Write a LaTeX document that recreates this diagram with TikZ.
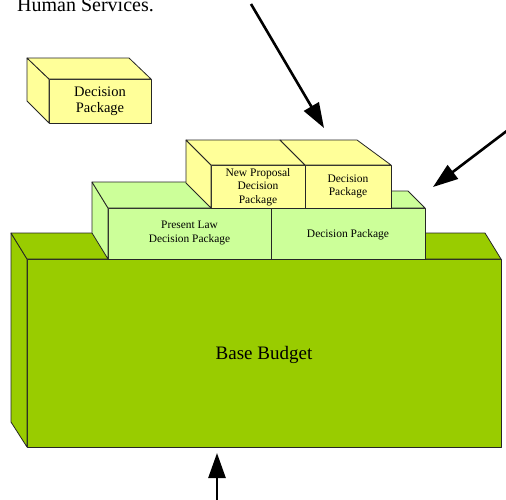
\documentclass[tikz,border=0pt]{standalone}
\usepackage{fontspec}
\setmainfont{Liberation Serif}
\usetikzlibrary{arrows.meta}
\definecolor{baseGreen}{HTML}{99CC00}
\definecolor{pkgGreen}{HTML}{CCFF99}
\definecolor{pkgYellow}{HTML}{FFFF99}

\begin{document}
\begin{tikzpicture}[x=1pt, y=-1pt,
  boxface/.style={draw=black!85, line width=0.8pt, line join=round},
  pointer/.style={line width=2.6pt, -{Triangle[length=25pt, width=17pt]}},
  boxtext/.style={align=center, inner sep=0pt}]
  \clip (0,0) rectangle (506,499);
  \filldraw[boxface, fill=baseGreen] (27,259) rectangle (501,447);
  \filldraw[boxface, fill=baseGreen] (11,233) -- (27,259) -- (27,447) -- (11,422) -- cycle;
  \filldraw[boxface, fill=baseGreen] (11,233) -- (485,233) -- (501,259) -- (27,259) -- cycle;
  \filldraw[boxface, fill=pkgGreen] (271,208) rectangle (425,259);
  \filldraw[boxface, fill=pkgGreen] (254,191) -- (408,191) -- (425,208) -- (271,208) -- cycle;
  \filldraw[boxface, fill=pkgGreen] (108,208) rectangle (271,259);
  \filldraw[boxface, fill=pkgGreen] (92,182) -- (108,208) -- (108,259) -- (92,233) -- cycle;
  \filldraw[boxface, fill=pkgGreen] (92,182) -- (255,182) -- (271,208) -- (108,208) -- cycle;
  \filldraw[boxface, fill=pkgYellow] (211,165) rectangle (305,208);
  \filldraw[boxface, fill=pkgYellow] (186,140) -- (211,165) -- (211,208) -- (186,183) -- cycle;
  \filldraw[boxface, fill=pkgYellow] (186,140) -- (280,140) -- (305,165) -- (211,165) -- cycle;
  \filldraw[boxface, fill=pkgYellow] (305,165) rectangle (391,208);
  \filldraw[boxface, fill=pkgYellow] (280,140) -- (357,140) -- (391,165) -- (305,165) -- cycle;
  \filldraw[boxface, fill=pkgYellow] (49,79) rectangle (151,123);
  \filldraw[boxface, fill=pkgYellow] (27,58) -- (49,79) -- (49,123) -- (27,101) -- cycle;
  \filldraw[boxface, fill=pkgYellow] (27,58) -- (129,58) -- (151,79) -- (49,79) -- cycle;
  \node[boxtext, font=\fontsize{20}{24}\selectfont, anchor=base west] (title) at (17,11) {Human Services.};
  \node[boxtext, font=\fontsize{14.5}{16}\selectfont] (spare) at (100,101.7) {Decision\\Package};
  \node[boxtext, font=\fontsize{19}{22}\selectfont] (base) at (264,354.6) {Base Budget};
  \node[boxtext, font=\fontsize{11.4}{14}\selectfont] (present) at (189.5,233.4) {Present Law\\Decision Package};
  \node[boxtext, font=\fontsize{11.5}{14}\selectfont] (greenpkg) at (348,234.3) {Decision Package};
  \node[boxtext, font=\fontsize{11.5}{13.5}\selectfont] (proposal) at (258,186.8) {New Proposal\\Decision\\Package};
  \node[boxtext, font=\fontsize{11.5}{13}\selectfont] (yellowpkg) at (348,186.8) {Decision\\Package};
  \coordinate (inTail) at (251,4);
  \coordinate (inTip) at (324,128);
  \coordinate (sideTail) at (508,130);
  \coordinate (sideTip) at (433,187);
  \coordinate (baseTail) at (217,502);
  \coordinate (baseTip) at (217,453);
  \draw[pointer] (inTail) -- (inTip);
  \draw[pointer] (sideTail) -- (sideTip);
  \draw[pointer] (baseTail) -- (baseTip);
\end{tikzpicture}
\end{document}
